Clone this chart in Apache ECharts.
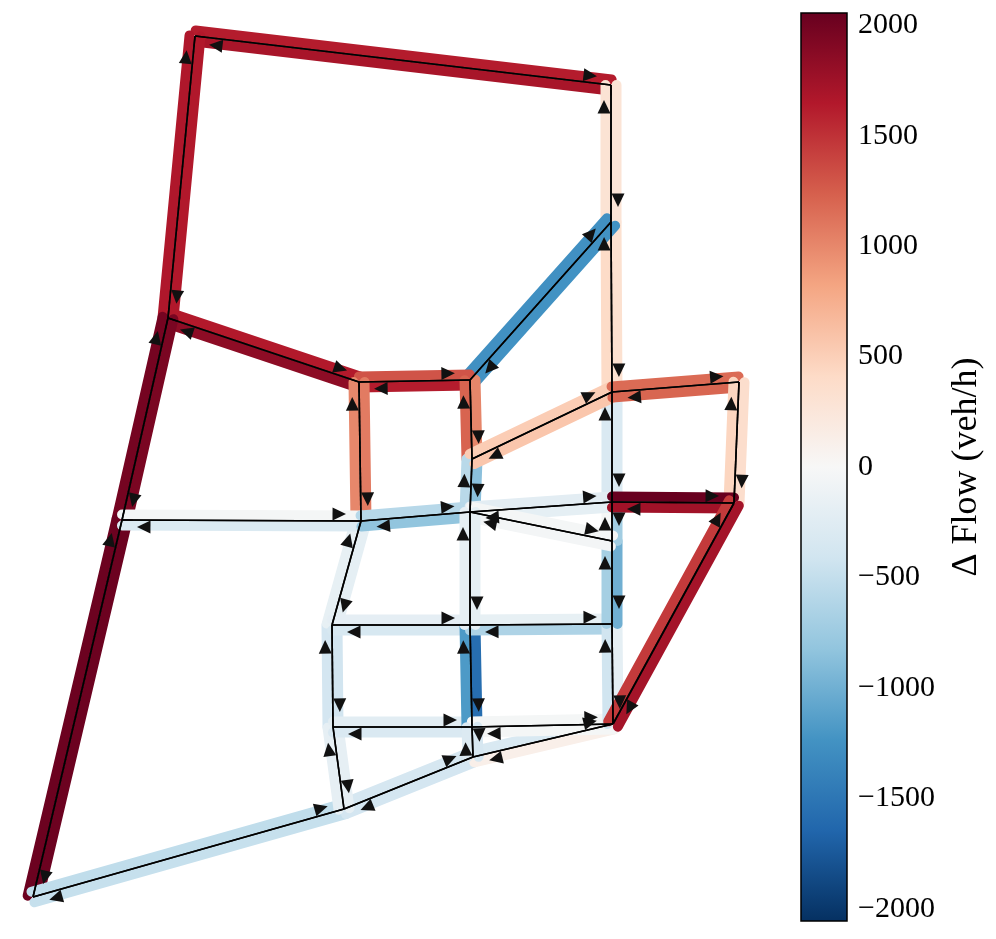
<!DOCTYPE html>
<html>
<head>
<meta charset="utf-8">
<title>Flow difference</title>
<style>
html, body { margin: 0; padding: 0; background: #fff; }
#main { width: 996px; height: 939px; }
</style>
<script src="https://cdn.jsdelivr.net/npm/echarts@6/dist/echarts.min.js"></script>
</head>
<body>
<div id="main"></div>
<script>
var nodeNames = ['A','B','C','D','E','F','G','H','I','J','K','L','M','N','O','P','Q','R','S','T','U','V','W','X'];
var nodeX = [195,611,611,168,359,470,612,739,472,122,361,470,612,734,612,612,470,332,333,472,613,473,344,33];
var nodeY = [36,85,222,318,382,380,392,382,459,520,521,512,502,503,541,624,625,625,727,727,724,757,809,897];

var linkFrom = ['A','B','A','D','D','E','D','J','J','X','X','W','W','V','V','U','S','R','R','K','S','W','R','Q','S','T','T','Q','Q','P','T','U','T','V','U','P','P','O','O','M','G','M','C','G','B','C','C','F','F','E','E','K','F','I','I','L','I','G','J','K','K','L','L','M','L','O','L','Q','G','H','H','N','M','N','N','U'];
var linkTo   = ['B','A','D','A','E','D','J','D','X','J','W','X','V','W','U','V','R','S','K','R','W','S','Q','R','T','S','Q','T','P','Q','U','T','V','T','P','U','O','P','M','O','M','G','G','C','C','B','F','C','E','F','K','E','I','F','L','I','G','I','K','J','L','K','M','L','O','L','Q','L','H','G','N','H','N','M','U','N'];
var linkDelta = [1620,1700,1650,1660,1640,1850,1950,1980,2030,2030,-520,-480,-360,-380,-320,120,-380,-400,-170,-190,-180,-180,-200,-350,-230,-310,-1180,-1570,-170,-640,-30,-30,-360,-290,-410,-190,-700,-1000,-30,-720,-300,-310,330,400,280,300,-1240,-1260,1620,1300,1070,1000,1010,1210,-860,-570,520,570,-30,-300,-580,-820,-220,-190,-30,-40,-190,-180,1170,1200,360,450,2050,1740,1720,1450];

var cbarMax = 2056;
var tickValues = [-2000,-1500,-1000,-500,0,500,1000,1500,2000];
var rdbuStops = ['#053061','#2166ac','#4393c3','#92c5de','#d1e5f0','#f7f7f7','#fddbc7','#f4a582','#d6604d','#b2182b','#67001f'];

function hex2rgb(h) {
    return [parseInt(h.substr(1,2),16), parseInt(h.substr(3,2),16), parseInt(h.substr(5,2),16)];
}
// RdBu_r lookup, same stops as the colour bar
function flowColor(v) {
    var t = (Math.max(-cbarMax, Math.min(cbarMax, v)) + cbarMax) / (2 * cbarMax) * (rdbuStops.length - 1);
    var i = Math.min(Math.floor(t), rdbuStops.length - 2);
    var a = hex2rgb(rdbuStops[i]), b = hex2rgb(rdbuStops[i+1]), f = t - i;
    return 'rgb(' + Math.round(a[0]+(b[0]-a[0])*f) + ',' + Math.round(a[1]+(b[1]-a[1])*f) + ',' + Math.round(a[2]+(b[2]-a[2])*f) + ')';
}

var linkData = linkFrom.map(function (f, i) {
    return [nodeNames.indexOf(f), nodeNames.indexOf(linkTo[i]), linkDelta[i]];
});

function ends(api) {
    var a = api.value(0), b = api.value(1);
    var p = api.coord([nodeX[a], nodeY[a]]);
    var q = api.coord([nodeX[b], nodeY[b]]);
    var dx = q[0]-p[0], dy = q[1]-p[1], len = Math.sqrt(dx*dx+dy*dy);
    return {p: p, q: q, ux: dx/len, uy: dy/len, nx: dy/len, ny: -dx/len, len: len};
}

var bandOffset = 5.5, bandWidth = 10, arrowOffset = 7, arrowGap = 15, arrowLen = 13.5, arrowHalf = 6.5;

function renderBand(params, api) {
    var e = ends(api);
    return {
        type: 'line',
        shape: {
            x1: e.p[0]+e.nx*bandOffset, y1: e.p[1]+e.ny*bandOffset,
            x2: e.q[0]+e.nx*bandOffset, y2: e.q[1]+e.ny*bandOffset
        },
        style: { stroke: flowColor(api.value(2)), lineWidth: bandWidth, lineCap: 'round', fill: null }
    };
}
function renderCentre(params, api) {
    var e = ends(api);
    return {
        type: 'line',
        shape: { x1: e.p[0], y1: e.p[1], x2: e.q[0], y2: e.q[1] },
        style: { stroke: '#000', lineWidth: 1.6, fill: null }
    };
}
function renderArrow(params, api) {
    var e = ends(api);
    var tipX = e.q[0]-e.ux*arrowGap+e.nx*arrowOffset, tipY = e.q[1]-e.uy*arrowGap+e.ny*arrowOffset;
    var bx = tipX-e.ux*arrowLen, by = tipY-e.uy*arrowLen;
    return {
        type: 'polygon',
        shape: { points: [[tipX,tipY],[bx+e.nx*arrowHalf,by+e.ny*arrowHalf],[bx-e.nx*arrowHalf,by-e.ny*arrowHalf]] },
        style: { fill: '#111' }
    };
}
function renderCbar(params, api) {
    var a = api.coord([0, cbarMax]), b = api.coord([1, -cbarMax]);
    return {
        type: 'rect',
        shape: { x: a[0], y: a[1], width: b[0]-a[0], height: b[1]-a[1] },
        style: {
            fill: {
                type: 'linear', x: 0, y: 1, x2: 0, y2: 0,
                colorStops: rdbuStops.map(function (c, i) { return {offset: i/(rdbuStops.length-1), color: c}; })
            },
            stroke: '#000', lineWidth: 1.5
        }
    };
}

var myChart = echarts.init(document.getElementById('main'), null, {renderer: 'canvas'});
var option = {
    animation: false,
    backgroundColor: '#fff',
    textStyle: { fontFamily: 'Liberation Serif' },
    grid: [
        { left: 0, top: 0, width: 780, height: 939 },
        { left: 801, top: 13, width: 46, height: 908 }
    ],
    xAxis: [
        { type: 'value', gridIndex: 0, min: 0, max: 780, show: false },
        { type: 'value', gridIndex: 1, min: 0, max: 1, show: false }
    ],
    yAxis: [
        { type: 'value', gridIndex: 0, min: 0, max: 939, inverse: true, show: false },
        {
            type: 'value', gridIndex: 1, position: 'right', min: -cbarMax, max: cbarMax,
            splitLine: { show: false },
            axisLine: { show: false },
            axisTick: { show: true, length: 7, customValues: tickValues, lineStyle: { color: '#000', width: 1.5 } },
            axisLabel: {
                show: true, customValues: tickValues, margin: 11,
                fontFamily: 'Liberation Serif', fontSize: 30, color: '#000',
                formatter: function (v) { return v < 0 ? '\u2212' + (-v) : '' + v; }
            },
            name: '\u0394 Flow (veh/h)', nameLocation: 'middle', nameRotate: 90, nameGap: 102,
            nameTextStyle: { fontFamily: 'Liberation Serif', fontSize: 36, color: '#000' }
        }
    ],
    series: [
        { type: 'custom', xAxisIndex: 0, yAxisIndex: 0, clip: false, silent: true, data: linkData, renderItem: renderBand, z: 2 },
        { type: 'custom', xAxisIndex: 0, yAxisIndex: 0, clip: false, silent: true, data: linkData, renderItem: renderCentre, z: 3 },
        { type: 'custom', xAxisIndex: 0, yAxisIndex: 0, clip: false, silent: true, data: linkData, renderItem: renderArrow, z: 4 },
        { type: 'custom', xAxisIndex: 1, yAxisIndex: 1, clip: false, silent: true, data: [[0, 0]], renderItem: renderCbar, z: 2 }
    ]
};
myChart.setOption(option);
</script>
</body>
</html>
